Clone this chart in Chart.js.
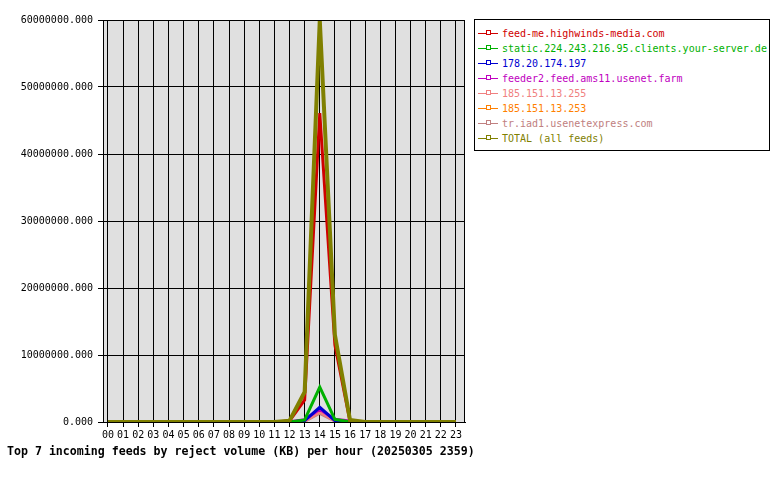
<!DOCTYPE html>
<html>
<head>
  <title>Incoming feeds - reject volume</title>
  <script src="https://cdn.jsdelivr.net/npm/chart.js"></script>
  <style>
    body {
      margin: 0;
      background: #fff;
      font-family: "DejaVu Sans Mono", monospace;
    }

    #wrap {
      position: relative;
      width: 780px;
      height: 480px;
    }

    #title {
      position: absolute;
      left: 7px;
      top: 444px;
      font-size: 11.6px;
      font-weight: bold;
      white-space: nowrap;
    }

    /* legend box on the right */
    #legend {
      position: absolute;
      left: 474px;
      top: 19px;
      width: 294px;
      height: 124px;
      padding-top: 6px;
      border: 1px solid #000;
      background: #fff;
      font-size: 10px;
    }

    #legend .row {
      position: relative;
      height: 15px;
      line-height: 15px;
      padding-left: 27px;
      white-space: nowrap;
    }

    #legend .line {
      position: absolute;
      left: 3px;
      top: 7px;
      width: 20px;
      height: 1px;
    }

    #legend .mark {
      position: absolute;
      left: 8px;
      top: -3px;
      width: 3px;
      height: 3px;
      border: 1px solid;
      background: #fff;
    }
  </style>
</head>
<body>
  <div id="wrap">
    <canvas id="feedChart" width="780" height="480"></canvas>
    <div id="legend"></div>
    <div id="title">Top 7 incoming feeds by reject volume (KB) per hour (20250305 2359)</div>
  </div>

  <script>
    const hours = ['00', '01', '02', '03', '04', '05', '06', '07', '08', '09', '10', '11',
                   '12', '13', '14', '15', '16', '17', '18', '19', '20', '21', '22', '23'];

    const feedNames = [
      'feed-me.highwinds-media.com',
      'static.224.243.216.95.clients.your-server.de',
      '178.20.174.197',
      'feeder2.feed.ams11.usenet.farm',
      '185.151.13.255',
      '185.151.13.253',
      'tr.iad1.usenetexpress.com',
      'TOTAL (all feeds)'
    ];

    const feedColors = ['#d00000', '#00b000', '#0000d0', '#c000c0', '#f08080', '#ff8000', '#c08080', '#808000'];

    // reject volume in KB, one value per hour
    const highwinds = [0, 0, 0, 0, 0, 0, 0, 0, 0, 0, 0, 0, 150000, 3300000, 46100000, 11500000, 50000, 0, 0, 0, 0, 0, 0, 0];
    const yourServer = [0, 0, 0, 0, 0, 0, 0, 0, 0, 0, 0, 0, 0, 300000, 5200000, 400000, 20000, 0, 0, 0, 0, 0, 0, 0];
    const ip197 = [0, 0, 0, 0, 0, 0, 0, 0, 0, 0, 0, 0, 0, 200000, 2200000, 200000, 30000, 0, 0, 0, 0, 0, 0, 0];
    const usenetFarm = [0, 0, 0, 0, 0, 0, 0, 0, 0, 0, 0, 0, 50000, 350000, 1900000, 400000, 150000, 0, 0, 0, 0, 0, 0, 0];
    const ip255 = [0, 0, 0, 0, 0, 0, 0, 0, 0, 0, 0, 0, 0, 100000, 1500000, 150000, 20000, 0, 0, 0, 0, 0, 0, 0];
    const ip253 = [0, 0, 0, 0, 0, 0, 0, 0, 0, 0, 0, 0, 0, 150000, 1800000, 200000, 20000, 0, 0, 0, 0, 0, 0, 0];
    const usenetExpress = [0, 0, 0, 0, 0, 0, 0, 0, 0, 0, 0, 0, 0, 100000, 1300000, 150000, 10000, 0, 0, 0, 0, 0, 0, 0];
    const totalAll = [0, 0, 0, 0, 0, 0, 0, 0, 0, 0, 0, 0, 200000, 4500000, 60000000, 13000000, 300000, 0, 0, 0, 0, 0, 0, 0];

    const yTicks = [0, 10000000, 20000000, 30000000, 40000000, 50000000, 60000000];

    const seriesList = [highwinds, yourServer, ip197, usenetFarm, ip255, ip253, usenetExpress, totalAll];

    // legend (html)
    const legend = document.getElementById('legend');
    feedNames.forEach((name, i) => {
      const row = document.createElement('div');
      row.className = 'row';
      row.style.color = feedColors[i];
      row.innerHTML = '<span class="line" style="background:' + feedColors[i] + '">' +
        '<span class="mark" style="border-color:' + feedColors[i] + '"></span></span>' + name;
      legend.appendChild(row);
    });

    // gray plot background + box border
    const plotBox = {
      id: 'plotBox',
      beforeDraw(chart) {
        const a = chart.chartArea;
        const ctx = chart.ctx;
        ctx.save();
        ctx.fillStyle = '#e0e0e0';
        ctx.fillRect(a.left, a.top, a.right - a.left, a.bottom - a.top);
        ctx.restore();
      },
      afterDraw(chart) {
        const a = chart.chartArea;
        const ctx = chart.ctx;
        ctx.save();
        ctx.strokeStyle = '#000';
        ctx.lineWidth = 1;
        ctx.strokeRect(a.left + 0.5, a.top + 0.5, a.right - a.left - 1, a.bottom - a.top);
        ctx.restore();
      }
    };

    const ctx = document.getElementById('feedChart').getContext('2d');
    new Chart(ctx, {
      type: 'line',
      data: {
        datasets: seriesList.map((vals, i) => ({
          label: feedNames[i],
          data: vals.map((v, h) => ({ x: h, y: v })),
          borderColor: feedColors[i],
          backgroundColor: feedColors[i],
          borderWidth: i === 7 ? 4 : 3,
          pointRadius: 0,
          tension: 0,
          order: i === 7 ? -1 : i
        }))
      },
      options: {
        responsive: false,
        animation: false,
        layout: {
          padding: { left: 0, right: 315, top: 20, bottom: 0 }
        },
        plugins: {
          legend: { display: false },
          tooltip: { enabled: false }
        },
        scales: {
          x: {
            type: 'linear',
            min: -0.33,
            max: 23.6,
            grid: { color: '#000', tickLength: 5 },
            border: { color: '#000' },
            ticks: {
              stepSize: 1,
              includeBounds: false,
              autoSkip: false,
              maxRotation: 0,
              padding: 2,
              color: '#000',
              font: { family: 'DejaVu Sans Mono', size: 10 },
              callback: (v) => hours[v]
            },
            afterFit: (scale) => { scale.height = 58; }
          },
          y: {
            min: 0,
            max: 60000000,
            grid: { color: '#000', tickLength: 5 },
            border: { color: '#000' },
            afterBuildTicks: (scale) => { scale.ticks = yTicks.map(v => ({ value: v })); },
            ticks: {
              padding: 5,
              color: '#000',
              font: { family: 'DejaVu Sans Mono', size: 10 },
              callback: (v) => v.toFixed(3)
            },
            afterFit: (scale) => { scale.width = 103; }
          }
        }
      },
      plugins: [plotBox]
    });
  </script>
</body>
</html>
